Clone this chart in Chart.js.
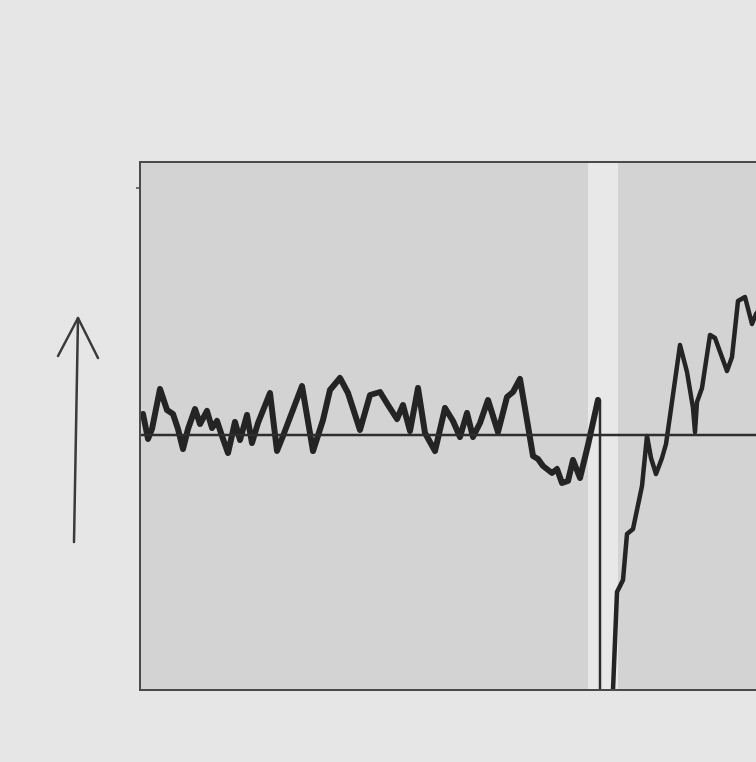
<!DOCTYPE html>
<html>
<head>
<meta charset="utf-8">
<script src="https://cdn.jsdelivr.net/npm/chart.js@4"></script>
<style>
  html, body { margin:0; padding:0; background:#e6e6e6; overflow:hidden; }
  #wrap { width:756px; height:762px; overflow:hidden; position:relative; }
  #c { position:absolute; left:0; top:0; }
</style>
</head>
<body>
<div id="wrap"><canvas id="c" width="800" height="762" style="width:800px;height:762px"></canvas></div>
<script>
// Time (arbitrary units) and signal relative to the reference baseline
const timeBefore = [0.3,0.8,1.2,2.0,2.7,3.3,3.8,4.3,4.8,5.5,6.0,6.7,7.2,7.7,8.2,8.8,9.5,10.0,10.7,11.2,11.8,13.0,13.7,14.3,16.2,17.3,18.3,19.0,20.0,20.8,22.0,23.0,24.0,24.8,25.7,26.3,27.0,27.8,28.5,29.5,30.5,31.3,32.0,32.7,33.3,34.0,34.8,35.8,36.7,37.3,38.0,38.8,39.3,39.8,40.3,41.2,41.7,42.2,42.8,43.3,44.0,44.8,45.8];
const signalBefore = [2.1,-0.4,0.6,4.6,2.5,2.1,0.6,-1.4,0.6,2.6,1.1,2.4,0.7,1.4,-0.1,-1.8,1.3,-0.5,2.0,-0.8,1.2,4.2,-1.6,-0.1,4.9,-1.6,1.5,4.5,5.7,4.2,0.5,4.0,4.3,3.0,1.6,3.0,0.4,4.7,0.2,-1.6,2.7,1.4,-0.2,2.2,-0.2,1.2,3.5,0.3,3.8,4.3,5.6,0.9,-2.1,-2.4,-3.1,-3.8,-3.4,-4.8,-4.6,-2.5,-4.3,-1.0,3.5];
const timeDrop = [46.0, 46.0];
const signalDrop = [3.5, -25.5];
const timeAfter = [47.3,47.7,48.3,48.7,49.3,50.2,50.7,51.1,51.6,52.2,52.6,53.0,54.0,54.7,55.3,55.5,55.7,56.2,57.0,57.5,58.7,59.2,59.8,60.5,61.2,61.6,62.0];
const signalAfter = [-25.5,-15.7,-14.5,-9.9,-9.4,-5.1,-0.1,-2.3,-3.9,-2.3,-0.9,1.9,9.0,6.3,2.7,0.3,3.3,4.7,10.0,9.7,6.4,7.8,13.4,13.8,11.1,12.1,12.6];
const baselineTime = [0, 65];
const baselineSignal = [0, 0];
const stripBand = [44.8, 47.8];
const xRange = [0, 65];
const yRange = [-25.5, 27.3];

const toPts = (xs, ys) => xs.map((x, i) => ({x, y: ys[i]}));

const framePlugin = {
  id: 'frame',
  beforeDatasetsDraw(chart) {
    const {ctx, chartArea: a, scales: {x}} = chart;
    ctx.save();
    ctx.fillStyle = '#d3d3d3';
    ctx.fillRect(a.left, a.top, a.right - a.left, a.bottom - a.top);
    const s0 = x.getPixelForValue(stripBand[0]), s1 = x.getPixelForValue(stripBand[1]);
    ctx.fillStyle = '#e8e8e8';
    ctx.fillRect(s0, a.top, s1 - s0, a.bottom - a.top);
    ctx.restore();
  },
  afterDraw(chart) {
    const {ctx, chartArea: a} = chart;
    ctx.save();
    ctx.strokeStyle = '#4a4a4a';
    ctx.lineWidth = 2;
    ctx.strokeRect(a.left, a.top, a.right - a.left, a.bottom - a.top);
    ctx.lineWidth = 1.5;
    ctx.beginPath();
    ctx.moveTo(a.left - 4, a.top + 26);
    ctx.lineTo(a.left, a.top + 26);
    ctx.stroke();
    // upward arrow annotation
    ctx.strokeStyle = '#3a3a3a';
    ctx.lineWidth = 2.5;
    ctx.lineCap = 'round';
    ctx.lineJoin = 'round';
    ctx.beginPath();
    ctx.moveTo(74, 542);
    ctx.lineTo(78, 318);
    ctx.stroke();
    ctx.beginPath();
    ctx.moveTo(58, 356);
    ctx.lineTo(78, 318);
    ctx.lineTo(98, 358);
    ctx.stroke();
    ctx.restore();
  }
};

new Chart(document.getElementById('c'), {
  type: 'scatter',
  data: {
    datasets: [
      { data: toPts(baselineTime, baselineSignal), showLine: true, borderColor: '#2e2e2e', borderWidth: 2.5, pointRadius: 0 },
      { data: toPts(timeBefore, signalBefore), showLine: true, borderColor: '#242424', borderWidth: 6, pointRadius: 0, borderJoinStyle: 'round', borderCapStyle: 'round' },
      { data: toPts(timeDrop, signalDrop), showLine: true, borderColor: '#2e2e2e', borderWidth: 2.5, pointRadius: 0 },
      { data: toPts(timeAfter, signalAfter), showLine: true, borderColor: '#242424', borderWidth: 4.5, pointRadius: 0, borderJoinStyle: 'round', borderCapStyle: 'round' }
    ]
  },
  options: {
    responsive: false,
    animation: false,
    layout: { padding: { left: 140, top: 162, right: 10, bottom: 72 } },
    plugins: { legend: { display: false }, tooltip: { enabled: false } },
    scales: {
      x: { type: 'linear', display: false, min: xRange[0], max: xRange[1] },
      y: { type: 'linear', display: false, min: yRange[0], max: yRange[1] }
    }
  },
  plugins: [framePlugin]
});
</script>
</body>
</html>
